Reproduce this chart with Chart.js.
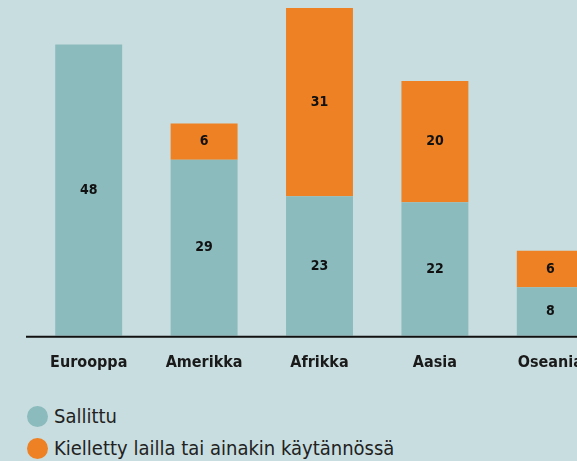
<!DOCTYPE html>
<html>
<head>
<meta charset="utf-8">
<script src="https://cdn.jsdelivr.net/npm/chart.js@4/dist/chart.umd.min.js"></script>
<style>
  html, body { margin: 0; padding: 0; background: #c8dddf; overflow: hidden; width: 577px; height: 461px; }
  #wrap { position: absolute; left: 0; top: 0; width: 610px; height: 391px; }
  #legend { position: absolute; left: 27px; top: 400px; font-family: "DejaVu Sans Condensed", sans-serif; font-size: 20px; color: #222; }
  .item { display: flex; align-items: center; height: 32px; }
  .dot { width: 21px; height: 21px; border-radius: 50%; margin-right: 6px; }
</style>
</head>
<body>
<div id="wrap"><canvas id="chart" width="610" height="391"></canvas></div>
<div id="legend"></div>
<script>
const categories = ["Eurooppa", "Amerikka", "Afrikka", "Aasia", "Oseania"];
const allowed = [48, 29, 23, 22, 8];
const forbidden = [0, 6, 31, 20, 6];
const seriesNames = ["Sallittu", "Kielletty lailla tai ainakin käytännössä"];
const seriesColors = ["#8bbbbd", "#ee8123"];

// values drawn in the middle of each segment
const valueLabels = {
  id: "valueLabels",
  afterDatasetsDraw(chart) {
    const ctx = chart.ctx;
    ctx.save();
    ctx.font = "bold 14px 'DejaVu Sans Condensed', sans-serif";
    ctx.fillStyle = "#111";
    ctx.textAlign = "center";
    ctx.textBaseline = "middle";
    chart.data.datasets.forEach((ds, i) => {
      chart.getDatasetMeta(i).data.forEach((bar, j) => {
        if (!ds.data[j]) return;
        const y = (bar.y + bar.base) / 2;
        ctx.fillText(ds.data[j], bar.x, y);
      });
    });
    ctx.restore();
  }
};

// baseline reaching a bit past the chart area on the left
const baseLine = {
  id: "baseLine",
  afterDatasetsDraw(chart) {
    const ctx = chart.ctx;
    const y = chart.scales.y.getPixelForValue(0);
    ctx.save();
    ctx.strokeStyle = "#111";
    ctx.lineWidth = 2;
    ctx.beginPath();
    ctx.moveTo(26, y + 1);
    ctx.lineTo(chart.width, y + 1);
    ctx.stroke();
    ctx.restore();
  }
};

new Chart(document.getElementById("chart"), {
  type: "bar",
  data: {
    labels: categories,
    datasets: [
      { label: seriesNames[0], data: allowed, backgroundColor: seriesColors[0] },
      { label: seriesNames[1], data: forbidden, backgroundColor: seriesColors[1] },
    ],
  },
  options: {
    responsive: false,
    animation: false,
    layout: { padding: { left: 31, right: 2, top: 2, bottom: 10 } },
    datasets: { bar: { categoryPercentage: 0.58, barPercentage: 1 } },
    scales: {
      x: {
        stacked: true,
        grid: { display: false },
        border: { display: false },
        ticks: {
          color: "#1a1a1a",
          padding: 9,
          font: { family: "'DejaVu Sans Condensed', sans-serif", size: 16, weight: "bold" },
        },
      },
      y: { stacked: true, display: false, min: 0, max: 55 },
    },
    plugins: { legend: { display: false }, tooltip: { enabled: false } },
  },
  plugins: [valueLabels, baseLine],
});

const legend = document.getElementById("legend");
seriesNames.forEach((name, i) => {
  const item = document.createElement("div");
  item.className = "item";
  item.innerHTML = '<span class="dot" style="background:' + seriesColors[i] + '"></span>' + name;
  legend.appendChild(item);
});
</script>
</body>
</html>
